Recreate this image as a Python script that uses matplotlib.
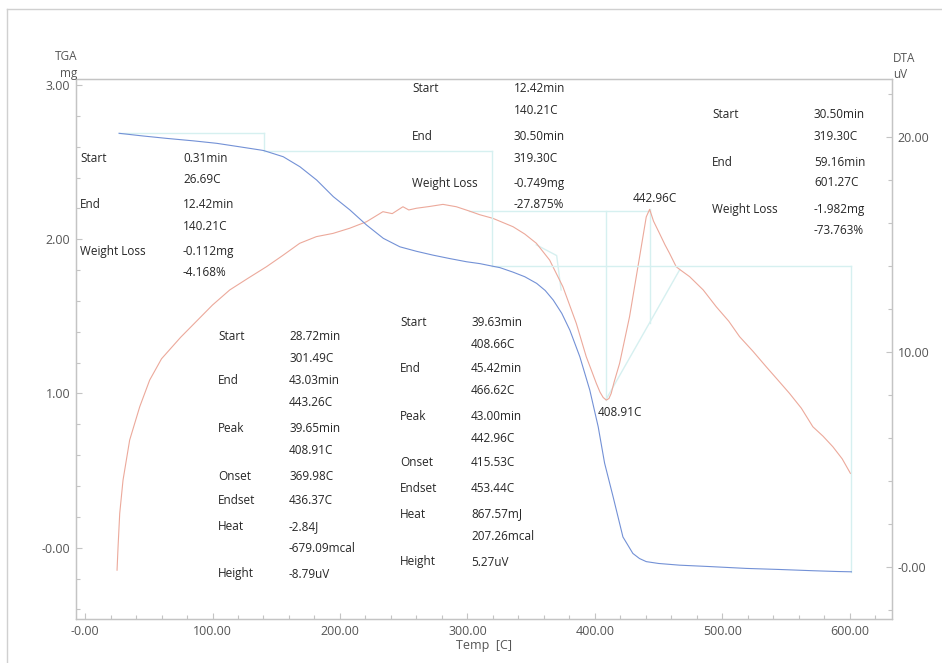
import matplotlib
matplotlib.use("Agg")
import matplotlib.pyplot as plt
from matplotlib.ticker import FixedLocator, MultipleLocator

plt.rcParams['font.family'] = ['Open Sans', 'DejaVu Sans']

# ---- TGA curve (mg) vs temperature (C)
tga_temp = [26.69, 45, 64, 85, 103.3, 120, 137.3, 140.21, 155.5, 168.6, 181.7, 194.8,
            207.8, 220.9, 234, 247, 260, 273, 286, 299.4, 309.8, 319.3, 325.5, 335.7,
            345, 354.3, 361, 367.3, 374, 380.4, 388.2, 396, 402.6, 407.6, 414.3, 422,
            429.8, 435, 440.3, 450, 466.4, 490, 518.7, 545, 571, 590, 601.27]
tga_mass = [2.687, 2.670, 2.654, 2.638, 2.622, 2.601, 2.579, 2.575, 2.535, 2.470, 2.384,
            2.276, 2.190, 2.092, 2.006, 1.951, 1.922, 1.897, 1.875, 1.854, 1.842, 1.826,
            1.816, 1.787, 1.757, 1.714, 1.668, 1.606, 1.520, 1.410, 1.238, 1.022, 0.784,
            0.549, 0.330, 0.070, -0.037, -0.070, -0.090, -0.102, -0.113, -0.122, -0.134,
            -0.141, -0.149, -0.154, -0.156]

# ---- DTA curve (uV) vs temperature (C)
dta_temp = [25.1, 25.9, 27.2, 29.8, 35, 42.9, 50.7, 60, 75, 90, 100, 113.5, 128, 142.3,
            155, 168.4, 181.5, 194.5, 207.6, 220.7, 233.7, 241, 249.4, 254, 260, 270,
            280.8, 291.3, 301.49, 309.6, 320, 335.8, 345, 354.1, 364.5, 374.9, 385.4,
            393.2, 398, 401.1, 404, 406.5, 408.91, 411, 412.8, 415, 419.4, 427.2, 435.1,
            440.3, 442.96, 446, 450.7, 455, 458.6, 463.8, 466.62, 474.3, 485, 495.2, 505,
            513.5, 524, 534.4, 543, 552.7, 562, 571, 579, 586.7, 594, 600.5]
dta_uv = [-0.13, 0.96, 2.51, 4.06, 5.92, 7.47, 8.71, 9.70, 10.70, 11.60, 12.20, 12.90,
          13.45, 13.98, 14.50, 15.07, 15.38, 15.53, 15.77, 16.07, 16.54, 16.45, 16.77,
          16.62, 16.70, 16.78, 16.88, 16.77, 16.57, 16.40, 16.23, 15.84, 15.50, 15.07,
          14.29, 13.05, 11.35, 9.80, 9.05, 8.56, 8.15, 7.90, 7.78, 7.85, 8.09, 8.60,
          9.49, 11.66, 14.45, 16.30, 16.65, 16.10, 15.53, 15.00, 14.60, 13.98, 13.85,
          13.52, 12.90, 12.12, 11.45, 10.73, 10.05, 9.33, 8.75, 8.09, 7.40, 6.54, 6.10,
          5.61, 5.05, 4.37]

# ---- Weight-loss steps (TGA analysis)
step_temp = [26.69, 140.21, 319.30, 601.27]
step_mass = [2.687, 2.575, 1.826, -0.156]

# ---- DTA peak analysis
p1_base_temp = [301.49, 443.26]
p1_base_uv = [16.57, 16.57]
p1_peak_temp = 408.91
p1_height = -8.79
p2_base_temp = [408.66, 466.62]
p2_base_uv = [7.80, 13.85]
p2_peak_temp = 442.96
p2_height = 5.27
p1_tangent_temp = [354.0, 370.0, 373.5]
p1_tangent_uv = [15.0, 14.5, 12.9]

x_major = [0, 100, 200, 300, 400, 500, 600]
x_labels = ["-0.00", "100.00", "200.00", "300.00", "400.00", "500.00", "600.00"]
tga_major = [0, 1, 2, 3]
tga_labels = ["-0.00", "1.00", "2.00", "3.00"]
dta_major = [0, 10, 20]
dta_labels = ["-0.00", "10.00", "20.00"]

blocks = [
    # (label x, value x, rows) ; rows = (y, label, value) in figure pixels
    (80, 183, [(158, "Start", "0.31min"), (180, "", "26.69C"), (204, "End", "12.42min"),
               (227, "", "140.21C"), (252, "Weight Loss", "-0.112mg"), (273, "", "-4.168%")]),
    (412, 514, [(89, "Start", "12.42min"), (111, "", "140.21C"), (137, "End", "30.50min"),
                (158, "", "319.30C"), (183, "Weight Loss", "-0.749mg"), (205, "", "-27.875%")]),
    (712, 814, [(115, "Start", "30.50min"), (137, "", "319.30C"), (162, "End", "59.16min"),
                (183, "", "601.27C"), (209, "Weight Loss", "-1.982mg"), (231, "", "-73.763%")]),
    (218, 289, [(337, "Start", "28.72min"), (358, "", "301.49C"), (380, "End", "43.03min"),
                (403, "", "443.26C"), (428, "Peak", "39.65min"), (450, "", "408.91C"),
                (476, "Onset", "369.98C"), (501, "Endset", "436.37C"), (527, "Heat", "-2.84J"),
                (548, "", "-679.09mcal"), (574, "Height", "-8.79uV")]),
    (400, 471, [(322, "Start", "39.63min"), (344, "", "408.66C"), (369, "End", "45.42min"),
                (390, "", "466.62C"), (416, "Peak", "43.00min"), (438, "", "442.96C"),
                (463, "Onset", "415.53C"), (489, "Endset", "453.44C"), (514, "Heat", "867.57mJ"),
                (536, "", "207.26mcal"), (562, "Height", "5.27uV")]),
]

W, H = 942, 663
fig = plt.figure(figsize=(W / 100, H / 100), dpi=100)
fig.patch.set_facecolor("white")

L, R, T, B = 76, 892, 79, 619
ax = fig.add_axes([L / W, 1 - B / H, (R - L) / W, (B - T) / H])
ax2 = ax.twinx()

spine_c = "#c4c4c4"
tick_c = "#555555"
txt_c = "#262626"
guide_c = "#d6f0f0"

ax.set_xlim(-7.1, 633.1)
ax.set_ylim(-0.462, 3.039)
ax2.set_ylim(-2.40, 22.71)

# guide lines for weight-loss steps
for i in range(len(step_temp) - 1):
    ax.plot([step_temp[i], step_temp[i + 1]], [step_mass[i], step_mass[i]],
            color=guide_c, lw=1.0, zorder=1)
    ax.plot([step_temp[i + 1], step_temp[i + 1]], [step_mass[i], step_mass[i + 1]],
            color=guide_c, lw=1.0, zorder=1)

# guide lines for DTA peaks
ax2.plot(p1_base_temp, p1_base_uv, color=guide_c, lw=1.0, zorder=1)
ax2.plot([p1_peak_temp, p1_peak_temp], [p1_base_uv[0], p1_base_uv[0] + p1_height],
         color=guide_c, lw=1.0, zorder=1)
ax2.plot(p2_base_temp, p2_base_uv, color=guide_c, lw=1.0, zorder=1)
frac = (p2_peak_temp - p2_base_temp[0]) / (p2_base_temp[1] - p2_base_temp[0])
p2_base_at_peak = p2_base_uv[0] + frac * (p2_base_uv[1] - p2_base_uv[0])
ax2.plot([p2_peak_temp, p2_peak_temp], [p2_base_at_peak, p2_base_at_peak + p2_height],
         color=guide_c, lw=1.0, zorder=1)
ax2.plot(p1_tangent_temp, p1_tangent_uv, color=guide_c, lw=1.0, zorder=1)

# curves
ax.plot(tga_temp, tga_mass, color="#7391d6", lw=0.8, zorder=3)
ax2.plot(dta_temp, dta_uv, color="#eca99b", lw=0.8, zorder=3)

# axes styling
for a in (ax, ax2):
    for s in a.spines.values():
        s.set_color(spine_c)
        s.set_linewidth(0.9)
    a.set_facecolor("none")
ax.set_zorder(2)
ax2.set_zorder(1)
ax.patch.set_visible(False)

ax.xaxis.set_major_locator(FixedLocator(x_major))
ax.set_xticklabels(x_labels)
ax.xaxis.set_minor_locator(FixedLocator(list(range(0, 621, 20))))
ax.yaxis.set_major_locator(FixedLocator(tga_major))
ax.set_yticklabels(tga_labels)
ax.yaxis.set_minor_locator(MultipleLocator(0.2))
ax2.yaxis.set_major_locator(FixedLocator(dta_major))
ax2.set_yticklabels(dta_labels)
ax2.yaxis.set_minor_locator(MultipleLocator(2))

ax.tick_params(axis="both", which="major", direction="in", length=4, width=0.8,
               color=spine_c, labelcolor=tick_c, labelsize=9, pad=4)
ax.tick_params(axis="both", which="minor", direction="in", length=3, width=0.8,
               color=spine_c)
ax.tick_params(axis="y", which="both", right=False)
ax2.tick_params(axis="y", which="major", direction="in", length=4, width=0.8,
                color=spine_c, labelcolor=tick_c, labelsize=9, pad=4)
ax2.tick_params(axis="y", which="minor", direction="in", length=3, width=0.8,
                color=spine_c)


def px(x, y):
    return x / W, 1 - y / H


# axis captions
fig.text(*px(77, 56), "TGA", ha="right", va="center", fontsize=8.5, color=tick_c)
fig.text(*px(77, 73), "mg", ha="right", va="center", fontsize=8.5, color=tick_c)
fig.text(*px(893, 58), "DTA", ha="left", va="center", fontsize=8.5, color=tick_c)
fig.text(*px(893, 75), "uV", ha="left", va="center", fontsize=8.5, color=tick_c)
fig.text(*px(484, 646), "Temp  [C]", ha="center", va="center", fontsize=9, color=tick_c)

# analysis result blocks
for lx, vx, rows in blocks:
    for y, lab, val in rows:
        if lab:
            fig.text(*px(lx, y), lab, ha="left", va="center", fontsize=8.5, color=txt_c)
        fig.text(*px(vx, y), val, ha="left", va="center", fontsize=8.5, color=txt_c)

# peak labels
fig.text(*px(655, 198), "442.96C", ha="center", va="center", fontsize=8.5, color=txt_c)
fig.text(*px(620, 412), "408.91C", ha="center", va="center", fontsize=8.5, color=txt_c)

# outer frame (left and top edges)
fig.add_artist(plt.Line2D([7 / W, 7 / W], [0, 1 - 9 / H], transform=fig.transFigure,
                          color="#d0d0d0", lw=1.0))
fig.add_artist(plt.Line2D([7 / W, 1], [1 - 9 / H, 1 - 9 / H], transform=fig.transFigure,
                          color="#d0d0d0", lw=1.0))

fig.savefig("out.png", dpi=100, facecolor="white")
